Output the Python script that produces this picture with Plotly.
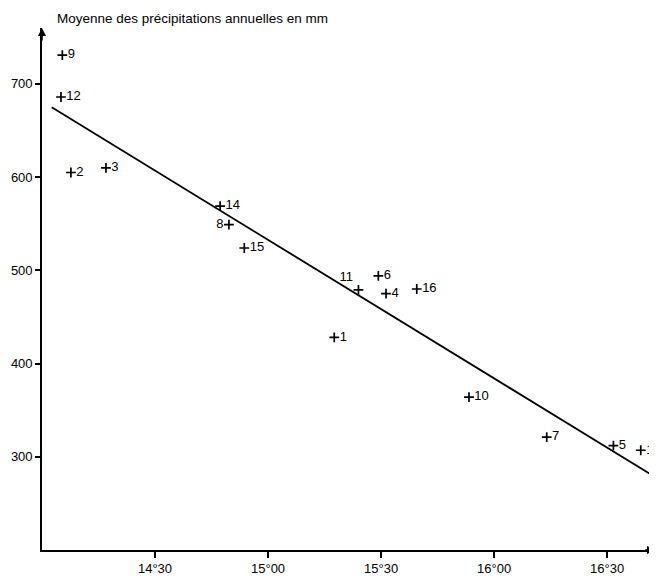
import plotly.graph_objects as go

# Station data: longitude (decimal degrees) and mean annual precipitation (mm)
station_ids = ["1", "2", "3", "4", "5", "6", "7", "8", "9", "10", "11", "12", "13", "14", "15", "16"]
longitude = [15.293, 14.128, 14.283, 15.522, 16.528, 15.488, 16.233, 14.827, 14.090, 15.889,
             15.400, 14.084, 16.649, 14.788, 14.895, 15.658]
precip_mm = [428, 605, 610, 475, 312, 494, 321, 549, 731, 364,
             479, 686, 307, 569, 524, 480]

# Regression line end points
trend_x = [14.043, 16.687]
trend_y = [675, 282]

x_tick_vals = [14.5, 15.0, 15.5, 16.0, 16.5]
x_tick_text = ["14°30", "15°00", "15°30", "16°00", "16°30"]
y_tick_vals = [300, 400, 500, 600, 700]
y_tick_text = ["300", "400", "500", "600", "700"]

title_text = "Moyenne des précipitations annuelles en mm"

# label placement (style)
label_pos = {"8": "middle left", "11": "top left"}
text_positions = [label_pos.get(s, "middle right") for s in station_ids]

FONT = "Liberation Sans, Arial, sans-serif"

fig = go.Figure()

fig.add_trace(go.Scatter(
    x=trend_x, y=trend_y, mode="lines",
    line=dict(color="black", width=1.8),
    showlegend=False, hoverinfo="skip",
))

fig.add_trace(go.Scatter(
    x=longitude, y=precip_mm, mode="markers+text",
    text=station_ids, textposition=text_positions,
    textfont=dict(family=FONT, size=13, color="black"),
    marker=dict(symbol="cross-thin", size=7, line=dict(color="black", width=1.7), color="black"),
    showlegend=False, cliponaxis=False,
))

X0, X1 = 14.0, 16.712
Y0, Y1 = 200, 760

# The page body has an 8px margin, so the figure is sized/offset to compensate
fig.update_layout(
    width=649, height=570,
    margin=dict(l=34, r=2, t=20, b=23),
    paper_bgcolor="white", plot_bgcolor="white",
    font=dict(family=FONT, size=13, color="black"),
    xaxis=dict(
        range=[X0, X1], showgrid=False, zeroline=False,
        showline=True, linecolor="black", linewidth=1.6,
        tickmode="array", tickvals=x_tick_vals, ticktext=x_tick_text,
        ticks="outside", ticklen=6, tickwidth=1.5, tickcolor="black",
        tickfont=dict(family=FONT, size=13, color="black"),
    ),
    yaxis=dict(
        range=[Y0, Y1], showgrid=False, zeroline=False,
        showline=True, linecolor="black", linewidth=1.6,
        tickmode="array", tickvals=y_tick_vals, ticktext=y_tick_text,
        ticks="outside", ticklen=5, tickwidth=1.5, tickcolor="black",
        tickfont=dict(family=FONT, size=13, color="black"),
    ),
    annotations=[
        dict(x=0.022, y=1.0, xref="paper", yref="paper", xanchor="left", yanchor="bottom",
             text=title_text, showarrow=False, yshift=0,
             font=dict(family=FONT, size=13.5, color="black")),
        # arrow heads on axes
        dict(x=X1, y=Y0, ax=X1 - 0.05, ay=Y0, xref="x", yref="y", axref="x", ayref="y",
             text="", showarrow=True, arrowhead=2, arrowsize=1, arrowwidth=1.6, arrowcolor="black"),
        dict(x=X0, y=Y1, ax=X0, ay=Y1 - 15, xref="x", yref="y", axref="x", ayref="y",
             text="", showarrow=True, arrowhead=2, arrowsize=1, arrowwidth=1.6, arrowcolor="black"),
    ],
)

fig.write_html("out.html")
